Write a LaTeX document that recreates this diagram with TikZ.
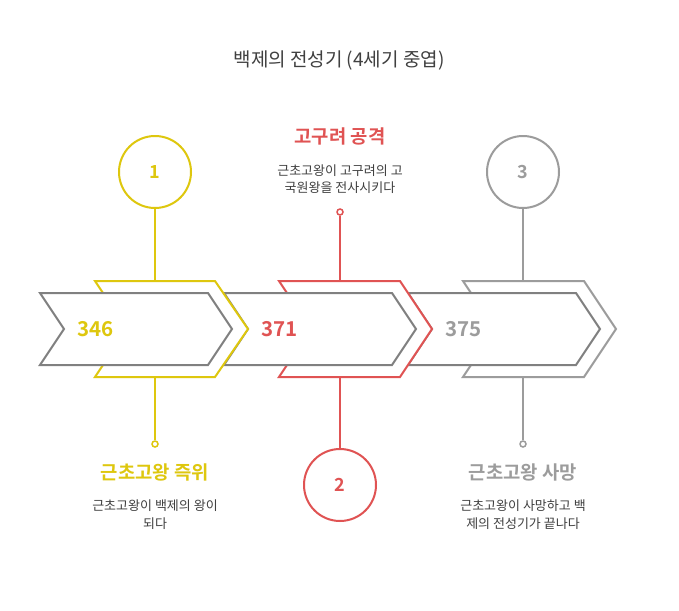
\documentclass[tikz,border=0pt]{standalone}
\usepackage{fontspec}
\setmainfont{Noto Sans CJK KR}
\newfontfamily\krbold{Noto Sans CJK KR Bold}
\definecolor{cyel}{HTML}{DEC70E}
\definecolor{cred}{HTML}{E05353}
\definecolor{cgry}{HTML}{9C9C9C}
\definecolor{carr}{HTML}{808080}
\definecolor{ctxt}{HTML}{404040}
\tikzset{
  grayarrow/.style={draw=carr, line width=2pt, fill=white, line join=miter},
  chev/.style={line width=2pt, fill=white, line join=miter},
  bigcirc/.style={circle, minimum size=72pt, inner sep=0pt, line width=2pt, fill=white, font=\krbold\fontsize{18}{18}\selectfont},
  dot/.style={circle, minimum size=6pt, inner sep=0pt, line width=1.5pt, fill=white},
  conn/.style={line width=2pt},
  year/.style={font=\krbold\fontsize{20.5}{20.5}\selectfont, anchor=west, inner sep=0pt},
  head/.style={font=\krbold\fontsize{18.8}{18.8}\selectfont, inner sep=0pt},
  desc/.style={font=\fontsize{13}{17.5}\selectfont, text=ctxt, align=center, inner sep=0pt},
}
\begin{document}
\begin{tikzpicture}[x=1pt,y=-1pt]
\useasboundingbox[fill=white] (0,0) rectangle (679,610);
% title
\node[font=\fontsize{19}{19}\selectfont, text=ctxt, inner sep=0pt] (title) at (339,61) {백제의 전성기 (4세기 중엽)};
% chevron 3 and arrow 3
\draw[chev, draw=cgry] (463,281) -- (584,281) -- (616,329) -- (584,377) -- (463,377) -- (495,329) -- cycle;
\draw[grayarrow] (408,293) -- (576,293) -- (600,329) -- (576,365) -- (408,365) -- (432,329) -- cycle;
% chevron 2 and arrow 2
\draw[chev, draw=cred] (279,281) -- (400,281) -- (432,329) -- (400,377) -- (279,377) -- (311,329) -- cycle;
\draw[grayarrow] (224,293) -- (392,293) -- (416,329) -- (392,365) -- (224,365) -- (248,329) -- cycle;
% chevron 1 and arrow 1
\draw[chev, draw=cyel] (95,281) -- (215,281) -- (248,329) -- (215,377) -- (95,377) -- (127,329) -- cycle;
\draw[grayarrow] (40,293) -- (208,293) -- (232,329) -- (208,365) -- (40,365) -- (64,329) -- cycle;
% years
\node[year, text=cyel] (y1) at (77,329) {346};
\node[year, text=cred] (y2) at (261,329) {371};
\node[year, text=cgry] (y3) at (445,329) {375};
% connector anchor points
\coordinate (c1t) at (155,281);
\coordinate (c1b) at (155,377);
\coordinate (c2t) at (340,281);
\coordinate (c2b) at (340,377);
\coordinate (c3t) at (523,281);
\coordinate (c3b) at (523,377);
% circles and dots
\node[bigcirc, draw=cyel, text=cyel] (n1) at (155,172) {1};
\node[bigcirc, draw=cred, text=cred] (n2) at (340,485) {2};
\node[bigcirc, draw=cgry, text=cgry] (n3) at (523,172) {3};
\node[dot, draw=cyel] (d1) at (155,444) {};
\node[dot, draw=cred] (d2) at (340,212) {};
\node[dot, draw=cgry] (d3) at (523,444) {};
% connectors
\draw[conn, cyel] (n1) -- (c1t);
\draw[conn, cyel] (c1b) -- (d1);
\draw[conn, cred] (d2) -- (c2t);
\draw[conn, cred] (c2b) -- (n2);
\draw[conn, cgry] (n3) -- (c3t);
\draw[conn, cgry] (c3b) -- (d3);
% texts
\node[head, text=cred] (h2) at (340,136) {고구려 공격};
\node[desc] (t2) at (340,179) {근초고왕이 고구려의 고\\국원왕을 전사시키다};
\node[head, text=cyel] (h1) at (155,472) {근초고왕 즉위};
\node[desc] (t1) at (155,514.5) {근초고왕이 백제의 왕이\\되다};
\node[head, text=cgry] (h3) at (523,472) {근초고왕 사망};
\node[desc] (t3) at (523,514.5) {근초고왕이 사망하고 백\\제의 전성기가 끝나다};
\end{tikzpicture}
\end{document}
